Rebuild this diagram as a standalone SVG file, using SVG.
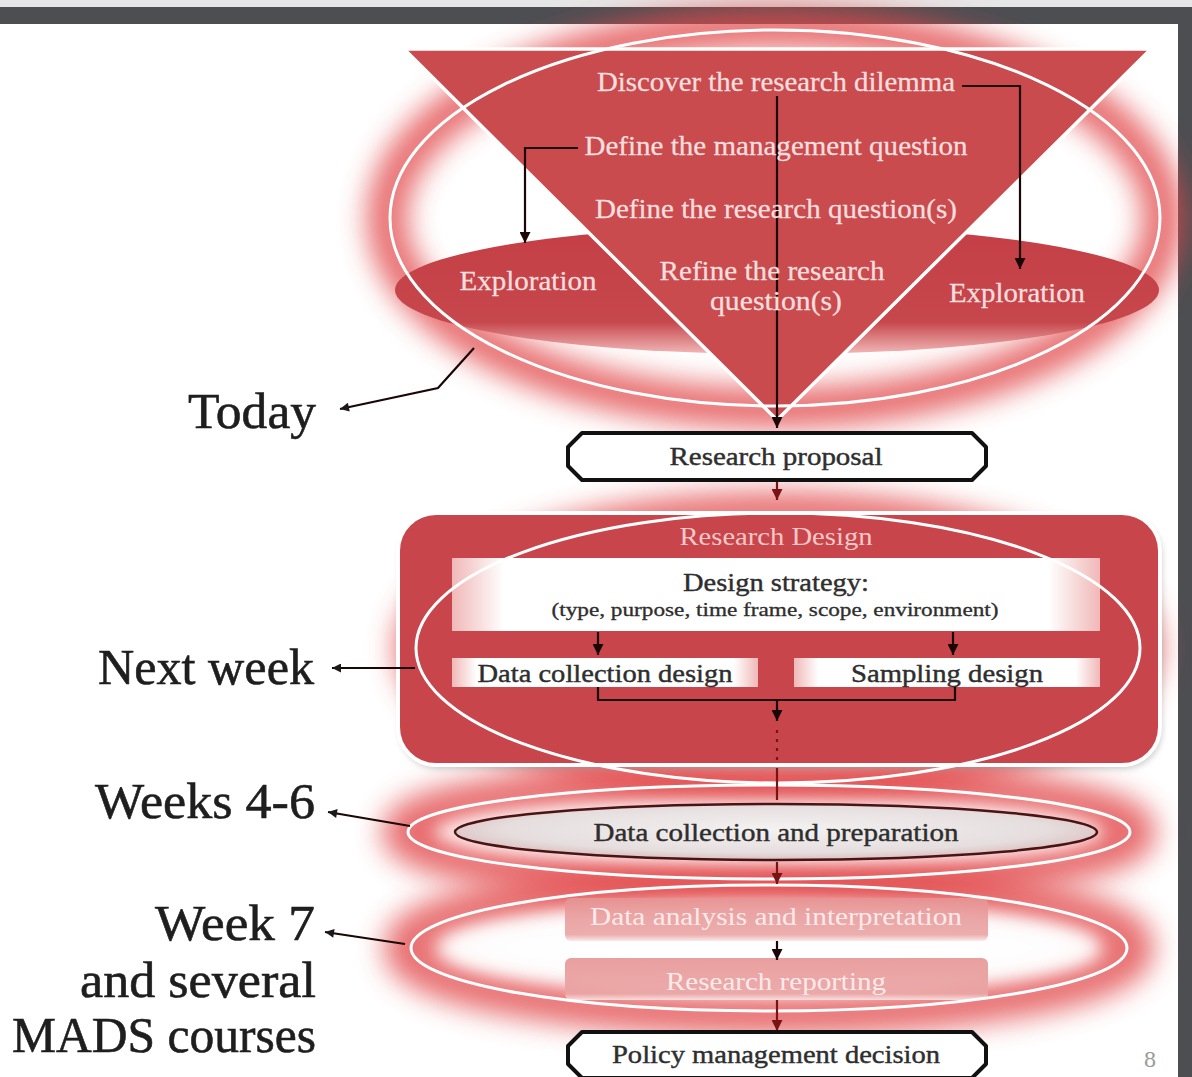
<svg xmlns="http://www.w3.org/2000/svg" width="1192" height="1077" viewBox="0 0 1192 1077">
<defs>
<style>
.tri{font-family:"Liberation Serif",serif;font-size:28px;fill:#f6dede;text-anchor:middle;stroke:#f6dede;stroke-width:0.3}
.lab{font-family:"Liberation Serif",serif;font-size:50px;fill:#1e1e1e;text-anchor:end;stroke:#1e1e1e;stroke-width:0.6}
.dark{font-family:"Liberation Serif",serif;fill:#2e2e2e;text-anchor:middle;stroke:#2e2e2e;stroke-width:0.4}
.conn{fill:none;stroke:#1a0606;stroke-width:2.2}
.red{fill:none;stroke:#7a1414;stroke-width:2.2}
.glow{fill:none;stroke:#e2484c;filter:url(#blur);opacity:0.8}
.oval{fill:none;stroke:#ffffff;stroke-width:3}
.box{fill:#ffffff;stroke:#111111;stroke-width:4;stroke-linejoin:round}
</style>
<filter id="blur" x="-20%" y="-50%" width="140%" height="200%"><feGaussianBlur stdDeviation="14"/></filter>
<filter id="soft" x="-20%" y="-50%" width="140%" height="200%"><feGaussianBlur stdDeviation="8"/></filter>
<filter id="shadow" x="-5%" y="-5%" width="110%" height="115%"><feGaussianBlur stdDeviation="3"/></filter>
<marker id="ah" viewBox="0 0 10 10" refX="10" refY="5" markerWidth="11" markerHeight="11" orient="auto" markerUnits="userSpaceOnUse"><path d="M0,0 L10,5 L0,10 z" fill="#1a0606"/></marker>
<marker id="ahr" viewBox="0 0 10 10" refX="10" refY="5" markerWidth="11" markerHeight="11" orient="auto" markerUnits="userSpaceOnUse"><path d="M0,0 L10,5 L0,10 z" fill="#7a1414"/></marker>
<marker id="ahp" viewBox="0 0 10 10" refX="10" refY="5" markerWidth="12" markerHeight="9" orient="auto" markerUnits="userSpaceOnUse"><path d="M0,0 L10,5 L0,10 z" fill="#1a1a1a"/></marker>
<linearGradient id="expl" x1="0" y1="0" x2="0" y2="1"><stop offset="0" stop-color="#c43f45"/><stop offset="0.75" stop-color="#c6474c"/><stop offset="1" stop-color="#f2b8b8"/></linearGradient>
<linearGradient id="wbox" x1="0" y1="0" x2="1" y2="0"><stop offset="0" stop-color="#f0b8b8"/><stop offset="0.08" stop-color="#ffffff"/><stop offset="0.92" stop-color="#ffffff"/><stop offset="1" stop-color="#f0b8b8"/></linearGradient>
<radialGradient id="dcp" cx="0.5" cy="0.45" r="0.6"><stop offset="0" stop-color="#f4f2f2"/><stop offset="0.7" stop-color="#e6dede"/><stop offset="1" stop-color="#d8b4b4"/></radialGradient>
<linearGradient id="fade" x1="0" y1="0" x2="0" y2="1"><stop offset="0" stop-color="#e79494"/><stop offset="0.85" stop-color="#eaa4a4"/><stop offset="1" stop-color="#fbe6e6"/></linearGradient>
</defs>

<rect width="1192" height="1077" fill="#ffffff"/>
<g id="frame">
<rect x="0" y="0" width="1192" height="7" fill="#e6e6e6"/>
<rect x="0" y="7" width="1192" height="17" fill="#4d4e52"/>
<rect x="1178" y="7" width="14" height="1070" fill="#4d4e52"/>
</g>

<g id="glows">
<ellipse class="glow" cx="775" cy="218" rx="388" ry="190" stroke-width="40"/>
<ellipse class="glow" cx="778" cy="648" rx="364" ry="137" stroke-width="38"/>
<ellipse class="glow" cx="769" cy="832" rx="366" ry="50" stroke-width="42"/>
<ellipse class="glow" cx="769" cy="948" rx="364" ry="66" stroke-width="42"/>
<ellipse cx="769" cy="832" rx="335" ry="30" fill="#fff5f5" filter="url(#soft)" opacity="0.9"/>
<ellipse cx="769" cy="948" rx="330" ry="44" fill="#ffffff" filter="url(#soft)" opacity="0.9"/>
</g>

<g id="exploration-band">
<ellipse cx="777" cy="290" rx="382" ry="64" fill="url(#expl)"/>
</g>
<g id="funnel">
<polygon points="404,49 1151,49 777,420" fill="#c94b4e" stroke="#ffffff" stroke-width="3.5" stroke-linejoin="miter"/>
</g>
<g id="today-oval"><ellipse class="oval" cx="775" cy="218" rx="385" ry="188"/></g>

<g id="research-design">
<rect x="400" y="517" width="762" height="252" rx="38" fill="#9a9a9a" opacity="0.5" filter="url(#shadow)"/>
<rect x="398" y="513" width="762" height="252" rx="38" fill="#c8464b" stroke="#ffffff" stroke-width="4"/>
<text x="776" y="545" font-family="Liberation Serif, serif" font-size="26" fill="#f4c8c8" text-anchor="middle" textLength="193" lengthAdjust="spacingAndGlyphs">Research Design</text>
</g>
<g id="design-strategy">
<rect x="452" y="558" width="648" height="73" fill="url(#wbox)"/>
<text class="dark" x="776" y="591" font-size="26" textLength="186" lengthAdjust="spacingAndGlyphs">Design strategy:</text>
<text class="dark" x="775" y="616" font-size="18" textLength="447" lengthAdjust="spacingAndGlyphs" style="stroke-width:0.3">(type, purpose, time frame, scope, environment)</text>
</g>
<g id="data-collection-design">
<rect x="452" y="658" width="306" height="29" fill="url(#wbox)"/>
<text class="dark" x="605" y="682" font-size="25" textLength="255" lengthAdjust="spacingAndGlyphs">Data collection design</text>
</g>
<g id="sampling-design">
<rect x="794" y="658" width="306" height="29" fill="url(#wbox)"/>
<text class="dark" x="947" y="682" font-size="25" textLength="192" lengthAdjust="spacingAndGlyphs">Sampling design</text>
</g>
<g id="next-week-oval"><ellipse class="oval" cx="778" cy="648" rx="362" ry="135"/></g>

<g id="data-collection-preparation">
<ellipse class="oval" cx="769" cy="832" rx="361" ry="47"/>
<ellipse cx="776" cy="832" rx="321" ry="28" fill="url(#dcp)" stroke="#4a1414" stroke-width="2.5"/>
<text class="dark" x="776" y="841" font-size="25" textLength="365" lengthAdjust="spacingAndGlyphs">Data collection and preparation</text>
</g>

<g id="data-analysis">
<rect x="565" y="898" width="423" height="43" rx="6" fill="url(#fade)" opacity="0.9"/>
<text x="776" y="925" font-family="Liberation Serif, serif" font-size="25" fill="#fbeaea" text-anchor="middle" textLength="372" lengthAdjust="spacingAndGlyphs">Data analysis and interpretation</text>
</g>
<g id="research-reporting">
<rect x="565" y="958" width="423" height="42" rx="6" fill="url(#fade)" opacity="0.9"/>
<text x="776" y="990" font-family="Liberation Serif, serif" font-size="25" fill="#fbeaea" text-anchor="middle" textLength="220" lengthAdjust="spacingAndGlyphs">Research reporting</text>
</g>
<g id="week7-oval"><ellipse class="oval" cx="769" cy="948" rx="358" ry="63"/></g>

<g id="connectors">
<path class="conn" d="M777,96 V428" marker-end="url(#ah)"/>
<path class="conn" d="M962,86 H1020 V269" marker-end="url(#ah)"/>
<path class="conn" d="M578,148 H525 V243" marker-end="url(#ah)"/>
<path class="red" d="M777,482 V500" marker-end="url(#ahr)"/>
<path class="conn" d="M598,632 V655" marker-end="url(#ah)"/>
<path class="conn" d="M953,632 V655" marker-end="url(#ah)"/>
<path class="conn" d="M598,687 V700 H955 V687" stroke="#3a0a0a"/>
<path class="conn" d="M777,700 V721" marker-end="url(#ah)"/>
<path class="red" d="M777,730 V762" stroke-dasharray="3,6"/>
<path class="red" d="M777,768 V800" stroke="#c07070" stroke-width="1.5"/>
<path class="red" d="M777,862 V884" marker-end="url(#ahr)" stroke="#c04848"/>
<path class="conn" d="M777,941 V960" marker-end="url(#ah)"/>
<path class="red" d="M777,1000 V1031" marker-end="url(#ahr)"/>
<path class="conn" d="M474,348 L438,388 L340,409" stroke="#1a1a1a" marker-end="url(#ahp)"/>
<path class="conn" d="M415,668 H332" stroke="#1a1a1a" marker-end="url(#ahp)"/>
<path class="conn" d="M410,826 L328,812" stroke="#1a1a1a" marker-end="url(#ahp)"/>
<path class="conn" d="M405,944 L325,932" stroke="#1a1a1a" marker-end="url(#ahp)"/>
</g>

<g id="discover"><text class="tri" x="776" y="91" textLength="358" lengthAdjust="spacingAndGlyphs">Discover the research dilemma</text></g>
<g id="define-management"><text class="tri" x="776" y="155" textLength="383" lengthAdjust="spacingAndGlyphs">Define the management question</text></g>
<g id="define-research"><text class="tri" x="776" y="218" textLength="362" lengthAdjust="spacingAndGlyphs">Define the research question(s)</text></g>
<g id="refine-research"><text class="tri" x="772" y="280" textLength="225" lengthAdjust="spacingAndGlyphs">Refine the research</text><text class="tri" x="776" y="310" textLength="132" lengthAdjust="spacingAndGlyphs">question(s)</text></g>
<g id="exploration-left"><text class="tri" x="528" y="290" textLength="137" lengthAdjust="spacingAndGlyphs">Exploration</text></g>
<g id="exploration-right"><text class="tri" x="1017" y="302" textLength="136" lengthAdjust="spacingAndGlyphs">Exploration</text></g>

<g id="research-proposal">
<path class="box" d="M582,433 H972 L986,447 V466 L972,480 H582 L568,466 V447 Z"/>
<text class="dark" x="776" y="465" font-size="25" textLength="213" lengthAdjust="spacingAndGlyphs">Research proposal</text>
</g>
<g id="policy-decision">
<path class="box" d="M582,1032 H972 L986,1046 V1064 L972,1078 H582 L568,1064 V1046 Z"/>
<text class="dark" x="776" y="1063" font-size="25" textLength="328" lengthAdjust="spacingAndGlyphs">Policy management decision</text>
</g>

<g id="labels">
<text class="lab" x="316" y="428" textLength="128" lengthAdjust="spacingAndGlyphs">Today</text>
<text class="lab" x="314" y="684" textLength="216" lengthAdjust="spacingAndGlyphs">Next week</text>
<text class="lab" x="315" y="818" textLength="220" lengthAdjust="spacingAndGlyphs">Weeks 4-6</text>
<text class="lab" x="315" y="940" textLength="160" lengthAdjust="spacingAndGlyphs">Week 7</text>
<text class="lab" x="316" y="997" textLength="236" lengthAdjust="spacingAndGlyphs">and several</text>
<text class="lab" x="316" y="1052" textLength="304" lengthAdjust="spacingAndGlyphs">MADS courses</text>
</g>
<g id="page-number"><text x="1150" y="1067" font-family="Liberation Serif, serif" font-size="24" fill="#9a9a9a" text-anchor="middle">8</text></g>
</svg>
